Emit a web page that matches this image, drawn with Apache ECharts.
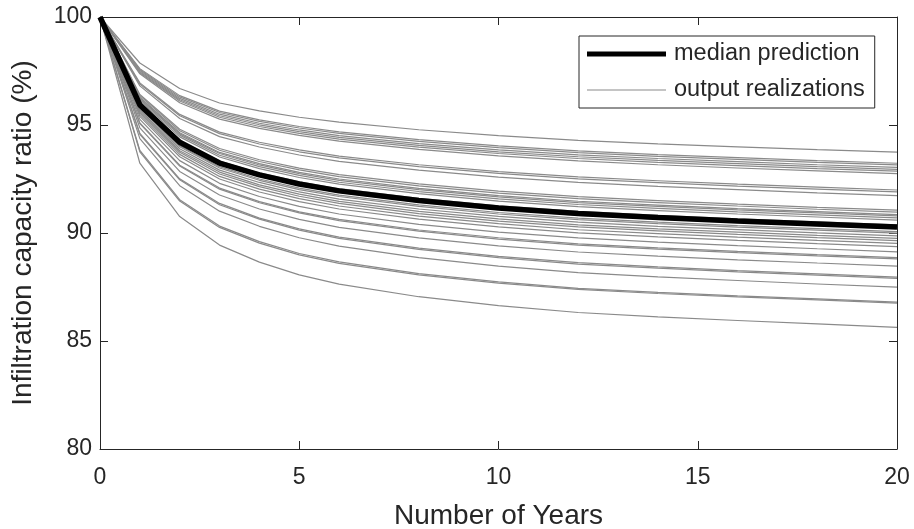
<!DOCTYPE html>
<html>
<head>
<meta charset="utf-8">
<script src="https://cdn.jsdelivr.net/npm/echarts@6/dist/echarts.min.js"></script>
<style>
html,body{margin:0;padding:0;background:#fff;}
#chart{width:914px;height:529px;}
</style>
</head>
<body>
<div id="chart"></div>
<script>
const years = [0, 1, 2, 3, 4, 5, 6, 8, 10, 12, 14, 16, 18, 20];
const xTicks = [0, 5, 10, 15, 20];
const yTicks = [80, 85, 90, 95, 100];

const median = [100, 95.93, 94.20, 93.24, 92.69, 92.27, 91.95, 91.50, 91.16, 90.90, 90.72, 90.56, 90.42, 90.28];

const r01 = [100, 97.87, 96.69, 96.02, 95.65, 95.36, 95.13, 94.78, 94.51, 94.29, 94.13, 93.99, 93.86, 93.74];
const r02 = [100, 97.61, 96.36, 95.64, 95.24, 94.93, 94.68, 94.32, 94.03, 93.80, 93.63, 93.49, 93.35, 93.23];
const r03 = [100, 97.57, 96.30, 95.58, 95.17, 94.86, 94.61, 94.24, 93.95, 93.72, 93.55, 93.41, 93.27, 93.15];
const r04 = [100, 97.52, 96.23, 95.50, 95.08, 94.77, 94.51, 94.14, 93.85, 93.62, 93.45, 93.30, 93.16, 93.04];
const r05 = [100, 97.47, 96.17, 95.43, 95.01, 94.69, 94.43, 94.06, 93.76, 93.53, 93.36, 93.21, 93.07, 92.95];
const r06 = [100, 97.42, 96.11, 95.36, 94.93, 94.61, 94.35, 93.98, 93.68, 93.45, 93.27, 93.12, 92.98, 92.86];
const r07 = [100, 97.37, 96.03, 95.27, 94.84, 94.52, 94.25, 93.87, 93.57, 93.34, 93.16, 93.01, 92.88, 92.75];
const r08 = [100, 96.95, 95.49, 94.67, 94.20, 93.85, 93.56, 93.16, 92.84, 92.60, 92.42, 92.26, 92.12, 91.99];
const r09 = [100, 96.90, 95.43, 94.60, 94.12, 93.76, 93.48, 93.07, 92.76, 92.51, 92.33, 92.17, 92.03, 91.90];
const r10 = [100, 96.81, 95.30, 94.46, 93.98, 93.61, 93.32, 92.91, 92.59, 92.34, 92.16, 92.01, 91.86, 91.73];
const r11 = [100, 96.41, 94.80, 93.91, 93.39, 93.00, 92.70, 92.27, 91.94, 91.68, 91.50, 91.34, 91.19, 91.06];
const r12 = [100, 96.36, 94.73, 93.83, 93.31, 92.92, 92.61, 92.18, 91.85, 91.59, 91.41, 91.25, 91.10, 90.97];
const r13 = [100, 96.29, 94.64, 93.73, 93.21, 92.81, 92.50, 92.07, 91.73, 91.47, 91.29, 91.13, 90.99, 90.85];
const r14 = [100, 96.25, 94.59, 93.68, 93.15, 92.75, 92.44, 92.01, 91.67, 91.41, 91.23, 91.07, 90.93, 90.79];
const r15 = [100, 96.19, 94.53, 93.60, 93.07, 92.67, 92.35, 91.92, 91.58, 91.32, 91.14, 90.98, 90.84, 90.70];
const r16 = [100, 96.13, 94.45, 93.52, 92.98, 92.57, 92.26, 91.82, 91.48, 91.22, 91.04, 90.88, 90.74, 90.60];
const r17 = [100, 95.99, 94.27, 93.33, 92.78, 92.37, 92.05, 91.60, 91.26, 91.00, 90.82, 90.66, 90.52, 90.38];
const r18 = [100, 95.88, 94.14, 93.18, 92.62, 92.20, 91.88, 91.43, 91.09, 90.82, 90.64, 90.48, 90.34, 90.20];
const r19 = [100, 95.80, 94.04, 93.07, 92.50, 92.08, 91.75, 91.30, 90.95, 90.69, 90.50, 90.34, 90.20, 90.06];
const r20 = [100, 95.76, 93.99, 93.01, 92.44, 92.01, 91.69, 91.23, 90.88, 90.62, 90.43, 90.27, 90.13, 89.99];
const r21 = [100, 95.69, 93.90, 92.91, 92.34, 91.90, 91.57, 91.11, 90.77, 90.50, 90.31, 90.16, 90.01, 89.87];
const r22 = [100, 95.63, 93.81, 92.82, 92.23, 91.80, 91.46, 91.00, 90.65, 90.38, 90.19, 90.04, 89.89, 89.75];
const r23 = [100, 95.57, 93.74, 92.73, 92.15, 91.70, 91.37, 90.90, 90.55, 90.28, 90.10, 89.94, 89.79, 89.65];
const r24 = [100, 95.49, 93.64, 92.62, 92.03, 91.59, 91.25, 90.78, 90.43, 90.15, 89.97, 89.81, 89.66, 89.52];
const r25 = [100, 95.40, 93.53, 92.50, 91.90, 91.45, 91.11, 90.64, 90.28, 90.01, 89.82, 89.66, 89.51, 89.37];
const r26 = [100, 95.26, 93.35, 92.30, 91.69, 91.23, 90.88, 90.40, 90.04, 89.77, 89.58, 89.42, 89.27, 89.13];
const r27 = [100, 95.10, 93.14, 92.08, 91.45, 90.98, 90.63, 90.14, 89.78, 89.50, 89.31, 89.15, 89.00, 88.86];
const r28 = [100, 95.06, 93.10, 92.03, 91.40, 90.93, 90.57, 90.09, 89.72, 89.44, 89.25, 89.09, 88.94, 88.80];
const r29 = [100, 94.87, 92.85, 91.76, 91.11, 90.63, 90.26, 89.77, 89.40, 89.12, 88.93, 88.76, 88.61, 88.47];
const r30 = [100, 94.61, 92.51, 91.37, 90.69, 90.19, 89.81, 89.30, 88.92, 88.63, 88.43, 88.26, 88.11, 87.96];
const r31 = [100, 94.57, 92.46, 91.31, 90.64, 90.13, 89.75, 89.24, 88.86, 88.56, 88.37, 88.20, 88.05, 87.90];
const r32 = [100, 94.37, 92.19, 91.01, 90.31, 89.78, 89.39, 88.86, 88.47, 88.17, 87.97, 87.80, 87.64, 87.49];
const r33 = [100, 93.82, 91.54, 90.32, 89.60, 89.05, 88.66, 88.12, 87.74, 87.44, 87.25, 87.09, 86.95, 86.80];
const r34 = [100, 93.76, 91.48, 90.26, 89.53, 88.99, 88.59, 88.06, 87.68, 87.39, 87.20, 87.04, 86.90, 86.75];
const r35 = [100, 93.23, 90.76, 89.44, 88.65, 88.06, 87.63, 87.05, 86.64, 86.32, 86.12, 85.95, 85.79, 85.63];

const realizations = [r01, r02, r03, r04, r05, r06, r07, r08, r09, r10, r11, r12, r13, r14, r15, r16, r17, r18,
  r19, r20, r21, r22, r23, r24, r25, r26, r27, r28, r29, r30, r31, r32, r33, r34, r35];

const legendNames = ['median prediction', 'output realizations'];
const xName = 'Number of Years';
const yName = 'Infiltration capacity ratio (%)';

const FONT = '"Liberation Sans", Arial, Helvetica, sans-serif';
const INK = '#262626';
const GRAY = '#8a8a8a';

const pair = vals => years.map((x, i) => [x, vals[i]]);

const series = realizations.map(r => ({
  name: legendNames[1],
  type: 'line',
  data: pair(r),
  symbol: 'none',
  lineStyle: { color: GRAY, width: 1.2 },
  itemStyle: { color: GRAY },
  silent: true,
  z: 2
}));
series.push({
  name: legendNames[0],
  type: 'line',
  data: pair(median),
  symbol: 'none',
  lineStyle: { color: '#000', width: 5.5 },
  itemStyle: { color: '#000' },
  silent: true,
  z: 3
});

function valAxis(pos, minV, maxV, step, showLabel, extra) {
  return Object.assign({
    type: 'value', position: pos, min: minV, max: maxV, interval: step,
    axisLine: { show: true, onZero: false, lineStyle: { color: INK, width: 1 } },
    axisTick: { show: true, inside: true, length: 8, lineStyle: { color: INK, width: 1 } },
    axisLabel: { show: showLabel, color: INK, fontFamily: FONT, fontSize: 23 },
    splitLine: { show: false }
  }, extra || {});
}

const chart = echarts.init(document.getElementById('chart'), null, { renderer: 'canvas' });
chart.setOption({
  animation: false,
  backgroundColor: '#fff',
  grid: { left: 100, right: 17, top: 17, bottom: 80, containLabel: false, outerBoundsMode: 'none' },
  legend: {
    data: [
      { name: legendNames[0], icon: 'path://M0,0H80V5H0Z', itemStyle: { color: '#000' } },
      { name: legendNames[1], icon: 'path://M0,0H80V1H0Z', itemStyle: { color: GRAY } }
    ],
    orient: 'vertical', left: 579, top: 36,
    itemWidth: 79, itemHeight: 5, itemGap: 8,
    padding: [4, 10, 4, 8],
    borderColor: INK, borderWidth: 1, backgroundColor: '#fff',
    symbolKeepAspect: true,
    textStyle: { color: INK, fontFamily: FONT, fontSize: 23.5, lineHeight: 28, padding: [0, 0, 0, 3] },
    selectedMode: false
  },
  xAxis: [
    valAxis('bottom', xTicks[0], xTicks[xTicks.length - 1], xTicks[1] - xTicks[0], true, {
      name: xName, nameLocation: 'middle', nameGap: 53,
      nameTextStyle: { color: INK, fontFamily: FONT, fontSize: 28 },
      axisLabel: { show: true, color: INK, fontFamily: FONT, fontSize: 23, margin: 17 }
    }),
    valAxis('top', xTicks[0], xTicks[xTicks.length - 1], xTicks[1] - xTicks[0], false)
  ],
  yAxis: [
    valAxis('left', yTicks[0], yTicks[yTicks.length - 1], yTicks[1] - yTicks[0], true, {
      name: yName, nameLocation: 'middle', nameGap: 63,
      nameTextStyle: { color: INK, fontFamily: FONT, fontSize: 28 },
      axisLabel: { show: true, color: INK, fontFamily: FONT, fontSize: 23, margin: 8 }
    }),
    valAxis('right', yTicks[0], yTicks[yTicks.length - 1], yTicks[1] - yTicks[0], false)
  ],
  series: series
});
</script>
</body>
</html>
